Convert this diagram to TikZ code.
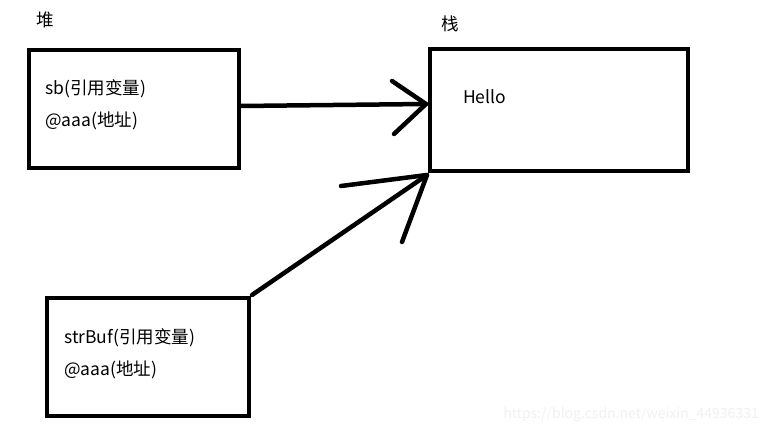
\documentclass[tikz,border=0pt]{standalone}
\usepackage{fontspec}
\setmainfont{Noto Sans CJK SC}
\begin{document}
\begin{tikzpicture}[x=1pt,y=-1pt,
  box/.style={draw=black,line width=4.5pt,minimum width=#1,anchor=north west,inner sep=0pt,outer sep=0pt},
  lbl/.style={anchor=west,inner sep=0pt,font=\fontsize{17.5}{20}\selectfont},
  conn/.style={line width=4.5pt,line cap=round,line join=round},
  wm/.style={anchor=east,inner sep=0pt,text=black!6,font=\fontsize{14}{16}\selectfont}]
\useasboundingbox (0,0) rectangle (767,435);
% boxes
\node[box=210pt,minimum height=118pt] (heap) at (29,50) {};
\node[box=258pt,minimum height=122pt] (stack) at (430,49) {};
\node[box=202pt,minimum height=118pt] (buf) at (47,298) {};
% titles
\node[lbl] (t1) at (36,20) {堆};
\node[lbl] (t2) at (441,24) {栈};
% texts
\node[lbl] (s1) at (45,89) {sb(引用变量)};
\node[lbl] (s2) at (45,121) {@aaa(地址)};
\node[lbl] (h) at (463,97) {Hello};
\node[lbl] (b1) at (64,338) {strBuf(引用变量)};
\node[lbl] (b2) at (64,370) {@aaa(地址)};
% arrow 1
\coordinate (a1s) at (241,106);
\coordinate (a1t) at (426,104);
\coordinate (a1u) at (392,81);
\coordinate (a1d) at (394,134);
\draw[conn] (a1s) -- (a1t);
\draw[conn] (a1u) -- (a1t) -- (a1d);
% arrow 2
\coordinate (a2s) at (252,295);
\coordinate (a2t) at (427,175);
\coordinate (a2u) at (341,186);
\coordinate (a2d) at (402,242);
\draw[conn] (a2s) -- (a2t);
\draw[conn] (a2u) -- (a2t) -- (a2d);
% watermark
\node[wm] (w) at (759,415) {https://blog.csdn.net/weixin\_44936331};
\end{tikzpicture}
\end{document}
